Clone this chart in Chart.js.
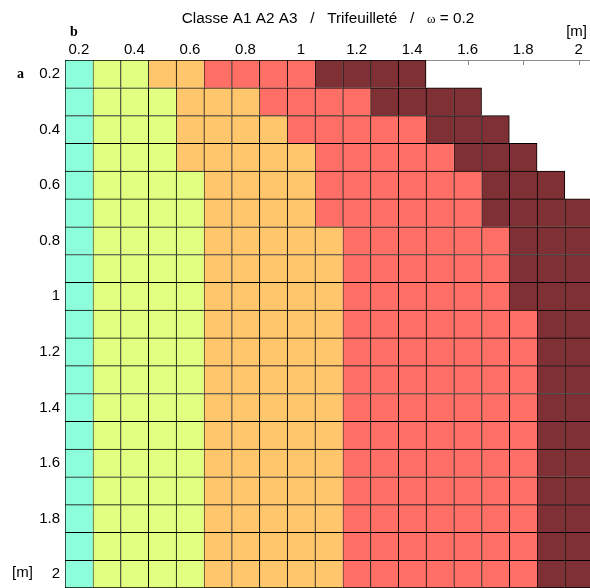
<!DOCTYPE html>
<html>
<head>
<meta charset="utf-8">
<script src="https://cdn.jsdelivr.net/npm/chart.js@4/dist/chart.umd.min.js"></script>
<style>
  html, body { margin: 0; padding: 0; background: #fff; overflow: hidden; }
  #c { display: block; }
</style>
</head>
<body>
<canvas id="c" width="590" height="588"></canvas>
<script>
// Cross-section dimensions b (columns) and a (rows), in metres
const bValues = [0.2, 0.3, 0.4, 0.5, 0.6, 0.7, 0.8, 0.9, 1.0, 1.1, 1.2, 1.3, 1.4, 1.5, 1.6, 1.7, 1.8, 1.9, 2.0];
const aValues = [0.2, 0.3, 0.4, 0.5, 0.6, 0.7, 0.8, 0.9, 1.0, 1.1, 1.2, 1.3, 1.4, 1.5, 1.6, 1.7, 1.8, 1.9, 2.0];

// Axis ticks and their labels
const tickValues = [0.2, 0.4, 0.6, 0.8, 1.0, 1.2, 1.4, 1.6, 1.8, 2.0];
const tickLabels = ['0.2', '0.4', '0.6', '0.8', '1', '1.2', '1.4', '1.6', '1.8', '2'];

// Class colours (index 1..5); 0 means no section
const classColors = ['#ffffff', '#8cffda', '#e1ff80', '#ffc66b', '#ff6f66', '#7e3034'];
const classNames = ['', 'classe 1', 'classe 2', 'classe 3', 'classe 4', 'classe 5'];

// Class of each (a, b) cell, one list per row a
const row020 = [1, 2, 2, 3, 3, 4, 4, 4, 4, 5, 5, 5, 5, 0, 0, 0, 0, 0, 0];
const row030 = [1, 2, 2, 2, 3, 3, 3, 4, 4, 4, 4, 5, 5, 5, 5, 0, 0, 0, 0];
const row040 = [1, 2, 2, 2, 3, 3, 3, 3, 4, 4, 4, 4, 4, 5, 5, 5, 0, 0, 0];
const row050 = [1, 2, 2, 2, 3, 3, 3, 3, 3, 4, 4, 4, 4, 4, 5, 5, 5, 0, 0];
const row060 = [1, 2, 2, 2, 2, 3, 3, 3, 3, 4, 4, 4, 4, 4, 4, 5, 5, 5, 0];
const row070 = [1, 2, 2, 2, 2, 3, 3, 3, 3, 4, 4, 4, 4, 4, 4, 5, 5, 5, 5];
const row080 = [1, 2, 2, 2, 2, 3, 3, 3, 3, 3, 4, 4, 4, 4, 4, 4, 5, 5, 5];
const row090 = [1, 2, 2, 2, 2, 3, 3, 3, 3, 3, 4, 4, 4, 4, 4, 4, 5, 5, 5];
const row100 = [1, 2, 2, 2, 2, 3, 3, 3, 3, 3, 4, 4, 4, 4, 4, 4, 5, 5, 5];
const row110 = [1, 2, 2, 2, 2, 3, 3, 3, 3, 3, 4, 4, 4, 4, 4, 4, 4, 5, 5];
const row120 = [1, 2, 2, 2, 2, 3, 3, 3, 3, 3, 4, 4, 4, 4, 4, 4, 4, 5, 5];
const row130 = [1, 2, 2, 2, 2, 3, 3, 3, 3, 3, 4, 4, 4, 4, 4, 4, 4, 5, 5];
const row140 = [1, 2, 2, 2, 2, 3, 3, 3, 3, 3, 4, 4, 4, 4, 4, 4, 4, 5, 5];
const row150 = [1, 2, 2, 2, 2, 3, 3, 3, 3, 3, 4, 4, 4, 4, 4, 4, 4, 5, 5];
const row160 = [1, 2, 2, 2, 2, 3, 3, 3, 3, 3, 4, 4, 4, 4, 4, 4, 4, 5, 5];
const row170 = [1, 2, 2, 2, 2, 3, 3, 3, 3, 3, 4, 4, 4, 4, 4, 4, 4, 5, 5];
const row180 = [1, 2, 2, 2, 2, 3, 3, 3, 3, 3, 4, 4, 4, 4, 4, 4, 4, 5, 5];
const row190 = [1, 2, 2, 2, 2, 3, 3, 3, 3, 3, 4, 4, 4, 4, 4, 4, 4, 5, 5];
const row200 = [1, 2, 2, 2, 2, 3, 3, 3, 3, 3, 4, 4, 4, 4, 4, 4, 4, 5, 5];

const grid = [row020, row030, row040, row050, row060, row070, row080, row090, row100,
              row110, row120, row130, row140, row150, row160, row170, row180, row190, row200];

const HALF = 0.05; // half a cell, in metres
const SANS = "'Liberation Sans', Arial, sans-serif";
const SERIF = "'Liberation Serif', 'Times New Roman', serif";

// One floating-bar dataset per class; each cell spans a ± 0.05 vertically
const datasets = [];
for (let k = 1; k <= 5; k++) {
  const cells = [];
  grid.forEach((row, i) => {
    row.forEach((cls, j) => {
      if (cls === k) {
        cells.push({ x: bValues[j], y: [aValues[i] - HALF, aValues[i] + HALF], row: i, col: j });
      }
    });
  });
  datasets.push({
    label: classNames[k],
    data: cells,
    backgroundColor: classColors[k],
    borderColor: '#000',
    borderSkipped: false,
    grouped: false,
    barPercentage: 1,
    categoryPercentage: 1,
    borderWidth: (ctx) => {
      const p = ctx.raw;
      if (!p) return 1;
      const lastCol = p.col === bValues.length - 1;
      const lastRow = p.row === aValues.length - 1;
      return {
        left: 1,
        top: 1,
        right: (lastCol || grid[p.row][p.col + 1] === 0) ? 1 : 0,
        bottom: (lastRow || grid[p.row + 1][p.col] === 0) ? 1 : 0
      };
    }
  });
}

// Short tick marks pointing into the plot, hidden under the cells
const innerTicks = {
  id: 'innerTicks',
  beforeDatasetsDraw(chart) {
    const { ctx, chartArea, scales } = chart;
    ctx.save();
    ctx.strokeStyle = '#8c8c8c';
    ctx.lineWidth = 1;
    ctx.beginPath();
    tickValues.forEach((v) => {
      const x = Math.round(scales.x.getPixelForValue(v)) + 0.5;
      ctx.moveTo(x, chartArea.top);
      ctx.lineTo(x, chartArea.top + 5);
      const y = Math.round(scales.y.getPixelForValue(v)) + 0.5;
      ctx.moveTo(chartArea.left, y);
      ctx.lineTo(chartArea.left + 5, y);
    });
    ctx.stroke();
    ctx.restore();
  }
};

// Title, axis names and units
const annotations = {
  id: 'annotations',
  afterDraw(chart) {
    const { ctx } = chart;
    ctx.save();
    ctx.fillStyle = '#000';
    ctx.textBaseline = 'alphabetic';

    // Title: the omega is set in a serif face
    const part1 = 'Classe A1 A2 A3   /   Trifeuilleté   /   ';
    const omega = 'ω';
    const part2 = ' = 0.2';
    const fSans = '15.3px ' + SANS;
    const fOmega = '13px ' + SERIF;
    ctx.font = fSans;
    const w1 = ctx.measureText(part1).width;
    const w3 = ctx.measureText(part2).width;
    ctx.font = fOmega;
    const w2 = ctx.measureText(omega).width;
    const total = w1 + w2 + w3;
    let x = 328 - total / 2;
    const ty = 23;
    ctx.textAlign = 'left';
    ctx.font = fSans;
    ctx.fillText(part1, x, ty);
    x += w1;
    ctx.font = fOmega;
    ctx.fillText(omega, x, ty);
    x += w2;
    ctx.font = fSans;
    ctx.fillText(part2, x, ty);

    // Axis names
    ctx.font = 'bold 14px ' + SERIF;
    ctx.fillText('b', 70, 36);
    ctx.fillText('a', 17, 78);

    // Units
    ctx.font = '15px ' + SANS;
    ctx.textAlign = 'right';
    ctx.fillText('[m]', 587, 36);
    ctx.textAlign = 'left';
    ctx.fillText('[m]', 12, 577);
    ctx.restore();
  }
};

const xMax = 0.15 + (590 - 65) / 277.7;

// Keep the plot area fixed: no extra room for edge labels
const noEdgePadding = (s) => {
  s.paddingTop = 0;
  s.paddingBottom = 0;
  s.paddingLeft = 0;
  s.paddingRight = 0;
};

new Chart(document.getElementById('c'), {
  type: 'bar',
  data: { datasets },
  options: {
    responsive: false,
    animation: false,
    layout: { padding: 0 },
    plugins: {
      legend: { display: false },
      tooltip: { enabled: false },
      title: { display: false }
    },
    scales: {
      x: {
        type: 'linear',
        position: 'top',
        offset: false,
        min: 0.15,
        max: xMax,
        grid: { display: false, drawTicks: false, tickLength: 0 },
        border: { display: true, color: '#8c8c8c', width: 1 },
        afterBuildTicks: (s) => { s.ticks = tickValues.map((v) => ({ value: v })); },
        afterFit: (s) => { s.height = 60; noEdgePadding(s); },
        ticks: {
          autoSkip: false,
          maxRotation: 0,
          padding: 1,
          color: '#000',
          font: { family: SANS, size: 15 },
          callback: (v, i) => tickLabels[i]
        }
      },
      y: {
        type: 'linear',
        reverse: true,
        offset: false,
        min: 0.15,
        max: 2.05,
        grid: { display: false, drawTicks: false, tickLength: 0 },
        border: { display: true, color: '#8c8c8c', width: 1 },
        afterBuildTicks: (s) => { s.ticks = tickValues.map((v) => ({ value: v })); },
        afterFit: (s) => { s.width = 65; noEdgePadding(s); },
        ticks: {
          autoSkip: false,
          padding: 5,
          color: '#000',
          font: { family: SANS, size: 15 },
          callback: (v, i) => tickLabels[i]
        }
      }
    }
  },
  plugins: [innerTicks, annotations]
});
</script>
</body>
</html>
